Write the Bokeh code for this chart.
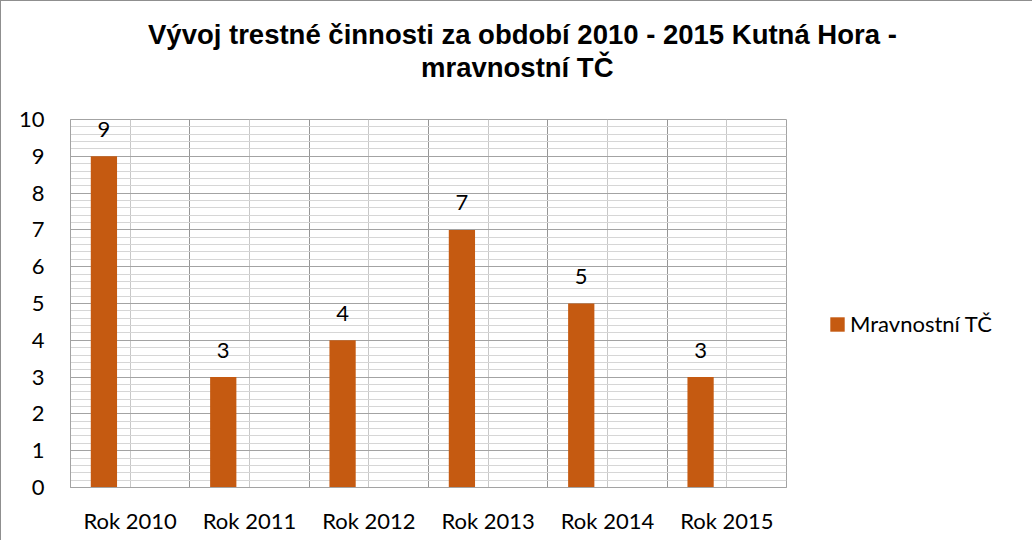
from bokeh.plotting import figure
from bokeh.models import FixedTicker, Legend, LegendItem, Title, ColumnDataSource, Range1d
from bokeh.core.properties import value
from bokeh.embed import file_html
from bokeh.resources import INLINE

# ---- data ----
categories = ["Rok 2010", "Rok 2011", "Rok 2012", "Rok 2013", "Rok 2014", "Rok 2015"]
values = [9, 3, 4, 7, 5, 3]
series_name = "Mravnostní TČ"
title_lines = ["Vývoj trestné činnosti za období 2010 - 2015 Kutná Hora -", "mravnostní TČ"]
y_ticks = list(range(0, 11))

# ---- style ----
BAR_COLOR = "#C55A11"
MAJOR_GRID = "#a3a3a3"
MINOR_GRID = "#d6d6d6"
TICK_FONT = "Lato"
TICK_SIZE = "22px"
TITLE_FONT = "Liberation Sans"
TITLE_SIZE = "27.5px"
BAR_SHIFT = -0.22
BAR_WIDTH = 0.22

idx = list(range(len(categories)))
src = ColumnDataSource(dict(
    x=[i + BAR_SHIFT for i in idx],
    v=values,
    lbl=[str(v) for v in values],
))

p = figure(frame_width=716, frame_height=368,
           x_range=Range1d(-0.5, len(categories) - 0.5),
           y_range=Range1d(y_ticks[0], y_ticks[-1]),
           output_backend="svg", toolbar_location=None, title=None,
           min_border_left=69, min_border_right=230,
           min_border_top=118, min_border_bottom=53)
p.styles = {"border-top": "1px solid #8f8f8f", "border-left": "1px solid #8f8f8f"}

p.background_fill_color = "white"
p.border_fill_color = "white"
p.outline_line_color = MAJOR_GRID

# grids
p.xgrid.ticker = FixedTicker(ticks=[i - 0.5 for i in range(len(categories) + 1)], minor_ticks=idx)
p.xgrid.grid_line_color = "#969696"
p.xgrid.minor_grid_line_color = "#c8c8c8"
p.ygrid.ticker = FixedTicker(ticks=y_ticks, minor_ticks=[k / 5 for k in range(5 * y_ticks[-1] + 1)])
p.ygrid.grid_line_color = MAJOR_GRID
p.ygrid.minor_grid_line_color = MINOR_GRID

# axes
p.xaxis.ticker = FixedTicker(ticks=idx)
p.xaxis.major_label_overrides = {i: c for i, c in zip(idx, categories)}
p.yaxis.ticker = FixedTicker(ticks=y_ticks)
for ax in (p.xaxis[0], p.yaxis[0]):
    ax.major_tick_line_color = None
    ax.minor_tick_line_color = None
    ax.major_tick_out = 0
    ax.major_tick_in = 0
    ax.minor_tick_out = 0
    ax.minor_tick_in = 0
    ax.axis_line_color = MAJOR_GRID
    ax.major_label_text_font = TICK_FONT
    ax.major_label_text_font_size = TICK_SIZE
    ax.major_label_text_color = "black"
p.yaxis.major_label_standoff = 26
p.xaxis.major_label_standoff = 19

bars = p.vbar(x="x", top="v", bottom=0, width=BAR_WIDTH, source=src,
              fill_color=BAR_COLOR, line_color=None)

p.text(x="x", y="v", text="lbl", source=src, text_align="center", text_baseline="middle",
       y_offset=-27, text_font=value(TICK_FONT), text_font_size=TICK_SIZE, text_color="black")

# spacer between plot area and title
p.add_layout(Title(text=" ", text_font_size="1px", standoff=34), "above")
# title (second line nearest the plot, added first)
for t, off in zip(reversed(title_lines), [350.5, 77.5]):
    p.add_layout(Title(text=t, align="left", offset=off, standoff=0,
                       text_font=TITLE_FONT, text_font_style="bold",
                       text_font_size=TITLE_SIZE, text_color="black"), "above")

legend = Legend(items=[LegendItem(label=series_name, renderers=[bars])],
                location=(42, 150), padding=0, margin=0,
                glyph_width=18, glyph_height=18, label_standoff=4,
                label_text_font=TICK_FONT, label_text_font_size=TICK_SIZE,
                label_text_color="black", border_line_color=None,
                background_fill_alpha=0)
p.add_layout(legend, "right")

open("out.html", "w").write(file_html(p, INLINE))
